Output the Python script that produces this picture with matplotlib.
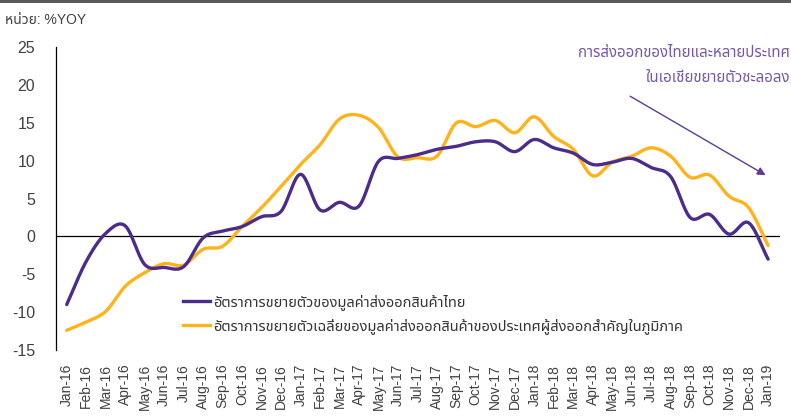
import numpy as np
import matplotlib
matplotlib.use("Agg")
import matplotlib.pyplot as plt
from matplotlib.lines import Line2D

plt.rcParams['font.family'] = ['Liberation Sans', 'Noto Sans Thai', 'Noto Sans', 'DejaVu Sans']

months = ["Jan-16", "Feb-16", "Mar-16", "Apr-16", "May-16", "Jun-16", "Jul-16", "Aug-16",
          "Sep-16", "Oct-16", "Nov-16", "Dec-16", "Jan-17", "Feb-17", "Mar-17", "Apr-17",
          "May-17", "Jun-17", "Jul-17", "Aug-17", "Sep-17", "Oct-17", "Nov-17", "Dec-17",
          "Jan-18", "Feb-18", "Mar-18", "Apr-18", "May-18", "Jun-18", "Jul-18", "Aug-18",
          "Sep-18", "Oct-18", "Nov-18", "Dec-18", "Jan-19"]

thai_exports = [-9.0, -3.3, 0.4, 1.4, -3.7, -4.1, -4.0, -0.2, 0.7, 1.3, 2.6, 3.3,
                8.2, 3.5, 4.5, 4.0, 9.9, 10.3, 10.8, 11.5, 11.9, 12.5, 12.5, 11.2,
                12.8, 11.7, 11.0, 9.5, 9.8, 10.3, 9.1, 7.9, 2.5, 2.9, 0.3, 1.8, -3.0]

region_exports = [-12.4, -11.3, -9.9, -6.6, -4.8, -3.6, -3.8, -1.7, -1.3, 1.3, 3.8, 6.6,
                  9.5, 12.1, 15.5, 16.0, 14.4, 10.5, 10.4, 10.6, 15.0, 14.5, 15.3, 13.7,
                  15.8, 13.2, 11.5, 8.0, 9.8, 10.6, 11.7, 10.6, 7.8, 8.1, 5.3, 3.8, -1.2]

yticks = [-15, -10, -5, 0, 5, 10, 15, 20, 25]

label_thai = "อัตราการขยายตัวของมูลค่าส่งออกสินค้าไทย"
label_region = "อัตราการขยายตัวเฉลี่ยของมูลค่าส่งออกสินค้าของประเทศผู้ส่งออกสำคัญในภูมิภาค"
note = "การส่งออกของไทยและหลายประเทศ\nในเอเชียขยายตัวชะลอลง"

purple = "#4B2C8A"
yellow = "#FFB31A"


def smooth(y, n=20):
    # catmull-rom curve through the points, like excel's smoothed line
    y = np.asarray(y, dtype=float)
    x = np.arange(len(y), dtype=float)
    p = np.concatenate([[2 * y[0] - y[1]], y, [2 * y[-1] - y[-2]]])
    xs, ys = [], []
    for i in range(len(y) - 1):
        t = np.linspace(0, 1, n, endpoint=False)
        p0, p1, p2, p3 = p[i], p[i + 1], p[i + 2], p[i + 3]
        seg = 0.5 * (2 * p1 + (-p0 + p2) * t + (2 * p0 - 5 * p1 + 4 * p2 - p3) * t ** 2
                     + (-p0 + 3 * p1 - 3 * p2 + p3) * t ** 3)
        xs.append(x[i] + t)
        ys.append(seg)
    xs.append([x[-1]])
    ys.append([y[-1]])
    return np.concatenate(xs), np.concatenate(ys)


fig = plt.figure(figsize=(7.91, 4.16), dpi=100)
ax = fig.add_axes([0.0708, 0.1587, 0.915, 0.728])

x1, y1 = smooth(thai_exports)
x2, y2 = smooth(region_exports)
ax.plot(x1, y1, color=purple, lw=2.4, solid_capstyle="round", zorder=3)
ax.plot(x2, y2, color=yellow, lw=2.4, solid_capstyle="round", zorder=2)
ax.axhline(0, color="black", lw=0.9, zorder=1)

ax.set_xlim(-0.55, 36.6)
ax.set_ylim(-15, 25)
ax.set_yticks(yticks)
ax.set_yticklabels([str(v) for v in yticks], fontsize=11.5, color="#404040")
ax.set_xticks(range(len(months)))
ax.set_xticklabels(months, rotation=90, fontsize=10, color="#404040")
ax.tick_params(axis="x", length=0, pad=10)
ax.tick_params(axis="y", length=0, pad=15)
for s in ["top", "right", "bottom"]:
    ax.spines[s].set_visible(False)
ax.spines["left"].set_color("black")
ax.spines["left"].set_linewidth(0.9)

handles = [Line2D([], [], color=purple, lw=2.4), Line2D([], [], color=yellow, lw=2.4)]
ax.legend(handles, [label_thai, label_region], loc="center left", bbox_to_anchor=(0.157, 0.12),
          frameon=False, fontsize=10.5, handlelength=1.85, handletextpad=0.2, labelspacing=0.55,
          labelcolor="#333333")

ax.annotate("", xy=(36, 7.9), xytext=(28.8, 18.7),
            arrowprops=dict(arrowstyle="-|>", color="#5B3C97", lw=1.0, mutation_scale=12))
fig.text(0.999, 0.843, note, ha="right", va="center", fontsize=10.8, color="#7656A6",
         linespacing=1.95)

fig.text(0.006, 0.952, "หน่วย: %YOY", fontsize=10, color="#404040", va="center")
fig.add_artist(plt.Rectangle((0, 0.993), 1, 0.007, transform=fig.transFigure,
                             color="#5a5a5a", lw=0))

fig.savefig("out.png", dpi=100)
